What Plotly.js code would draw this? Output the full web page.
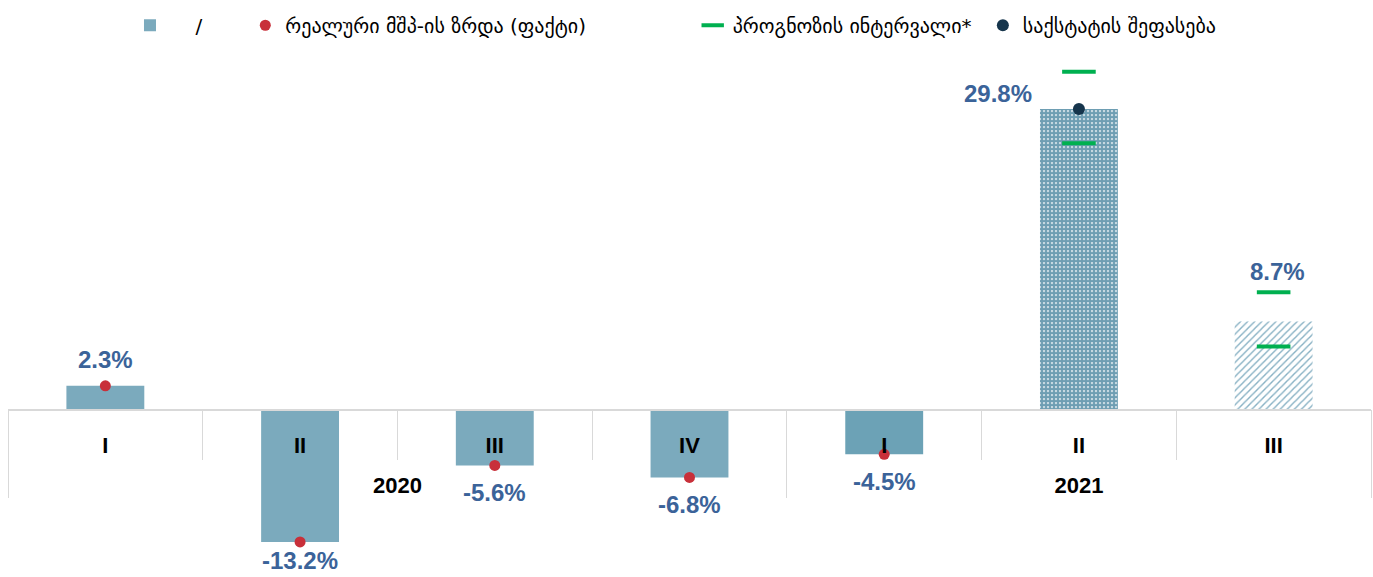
<!DOCTYPE html>
<html>
<head>
<meta charset="utf-8">
<script src="https://cdn.plot.ly/plotly-3.0.1.min.js"></script>
<style>
html,body{margin:0;padding:0;background:#fff;}
#chart{width:1373px;height:577px;}
</style>
</head>
<body>
<div id="chart"></div>
<script>
// ---- data ----
const years = ["2020", "2020", "2020", "2020", "2021", "2021", "2021"];
const quarters = ["I", "II", "III", "IV", "I", "II", "III"];
const gdpGrowth = [2.3, -13.2, -5.6, -6.8, -4.5, 29.8, 8.7];
const actualGrowth = [2.3, -13.2, -5.6, -6.8, -4.5, null, null];
const geostatEstimate = [null, null, null, null, null, 29.8, null];
const forecastLow = [null, null, null, null, null, 26.4, 6.2];
const forecastHigh = [null, null, null, null, null, 33.5, 11.6];

const legendTexts = {
  bar: "/",
  actual: "რეალური მშპ-ის ზრდა (ფაქტი)",
  interval: "პროგნოზის ინტერვალი*",
  geostat: "საქსტატის შეფასება"
};

// ---- styles ----
const nb = n => "\u00a0".repeat(n);
const legendNames = {
  bar: nb(4) + legendTexts.bar + nb(6),
  actual: legendTexts.actual + nb(16),
  interval: legendTexts.interval + nb(1),
  geostat: legendTexts.geostat
};
const barColors = ["#7BAABD", "#7BAABD", "#7BAABD", "#7BAABD", "#6CA2B6", "#6E9EB3", "#86B0C3"];
const patShapes = ["", "", "", "", "", ".", "/"];
const patSize = [8, 8, 8, 8, 8, 4, 5];
const patSolidity = [0.3, 0.3, 0.3, 0.3, 0.3, 0.8, 0.28];
const labelColor = "#3B6399";
const gridGray = "#D9D9D9";

// label offsets (px) relative to each bar end
function labelShift(i, v) {
  if (i === 5) return {xshift: -81, yshift: 15};
  if (i === 6) return {xshift: 4, yshift: 50};
  if (v >= 0) return {xshift: 0, yshift: 26};
  if (v < -10) return {xshift: 0, yshift: -19};
  return {xshift: 0, yshift: -27};
}

// the year row sits lower than the quarter row
const yearRow = years.map(y => "<br>" + y);
const xCat = [yearRow, quarters];

const traces = [];
traces.push({
  type: "bar",
  x: xCat,
  y: gdpGrowth,
  width: 0.4,
  name: legendNames.bar,
  marker: {
    color: barColors,
    line: {width: 0},
    pattern: {shape: patShapes, size: patSize, solidity: patSolidity, fillmode: "replace"}
  },
  hoverinfo: "y"
});

// forecast interval dashes
const fx0 = [], fx1 = [], fy = [];
for (let i = 0; i < years.length; i++) {
  if (forecastLow[i] !== null) { fx0.push(yearRow[i]); fx1.push(quarters[i]); fy.push(forecastLow[i]); }
  if (forecastHigh[i] !== null) { fx0.push(yearRow[i]); fx1.push(quarters[i]); fy.push(forecastHigh[i]); }
}

traces.push({
  type: "scatter",
  mode: "markers",
  x: xCat,
  y: actualGrowth,
  name: legendNames.actual,
  marker: {color: "#C8303A", size: 11},
  cliponaxis: false
});
traces.push({
  type: "scatter",
  mode: "markers",
  x: [fx0, fx1],
  y: fy,
  name: legendNames.interval,
  marker: {symbol: "line-ew", size: 24, color: "#00B050", line: {color: "#00B050", width: 4}},
  cliponaxis: false
});
traces.push({
  type: "scatter",
  mode: "markers",
  x: xCat,
  y: geostatEstimate,
  name: legendNames.geostat,
  marker: {color: "#16354C", size: 12},
  cliponaxis: false
});
// helper trace for the boundary tick axis
traces.push({
  type: "scatter",
  mode: "markers",
  x: quarters.map((q, i) => i),
  y: quarters.map(() => null),
  xaxis: "x2",
  showlegend: false,
  hoverinfo: "skip",
  marker: {opacity: 0}
});

const annotations = gdpGrowth.map((v, i) => {
  const s = labelShift(i, v);
  return {
    x: i, y: v, xref: "x", yref: "y",
    text: v.toFixed(1) + "%",
    showarrow: false,
    xanchor: "center", yanchor: "middle",
    xshift: s.xshift, yshift: s.yshift,
    font: {family: "Liberation Sans, Arial, sans-serif", size: 24, color: labelColor, weight: "bold"}
  };
});

const plotTop = 55, plotBottom = 577, zeroPx = 409, pxPerUnit = 10.07;
const yMax = (zeroPx - plotTop) / pxPerUnit;
const yMin = -(plotBottom - zeroPx) / pxPerUnit;
const zeroFrac = (plotBottom - zeroPx) / (plotBottom - plotTop);

const layout = {
  width: 1373, height: 577,
  margin: {l: 8, r: 2, t: plotTop, b: 0, pad: 0},
  paper_bgcolor: "#fff", plot_bgcolor: "#fff",
  showlegend: true,
  legend: {
    orientation: "h", x: 0.0895, xanchor: "left", y: 1.057, yanchor: "middle",
    font: {family: "DejaVu Sans, sans-serif", size: 20, color: "#000"},
    bgcolor: "rgba(0,0,0,0)"
  },
  bargap: 0.6,
  xaxis: {
    type: "multicategory",
    anchor: "free", position: zeroFrac,
    showline: true, linecolor: gridGray, linewidth: 1.5,
    ticks: "", showgrid: false, zeroline: false,
    ticklabelstandoff: 16,
    showdividers: true, dividercolor: gridGray, dividerwidth: 1,
    tickfont: {family: "Liberation Sans, Arial, sans-serif", size: 22, color: "#000", weight: "bold"},
    fixedrange: true
  },
  xaxis2: {
    type: "linear", overlaying: "x", anchor: "free", position: zeroFrac,
    range: [-0.5, 6.5], tick0: -0.5, dtick: 1,
    ticks: "outside", ticklen: 50, tickcolor: gridGray, tickwidth: 1,
    showticklabels: false, showgrid: false, zeroline: false, showline: false,
    fixedrange: true
  },
  yaxis: {
    range: [yMin, yMax], visible: false, showgrid: false, zeroline: false, fixedrange: true
  },
  annotations: annotations
};

Plotly.newPlot("chart", traces, layout, {displayModeBar: false, staticPlot: true});
</script>
</body>
</html>
